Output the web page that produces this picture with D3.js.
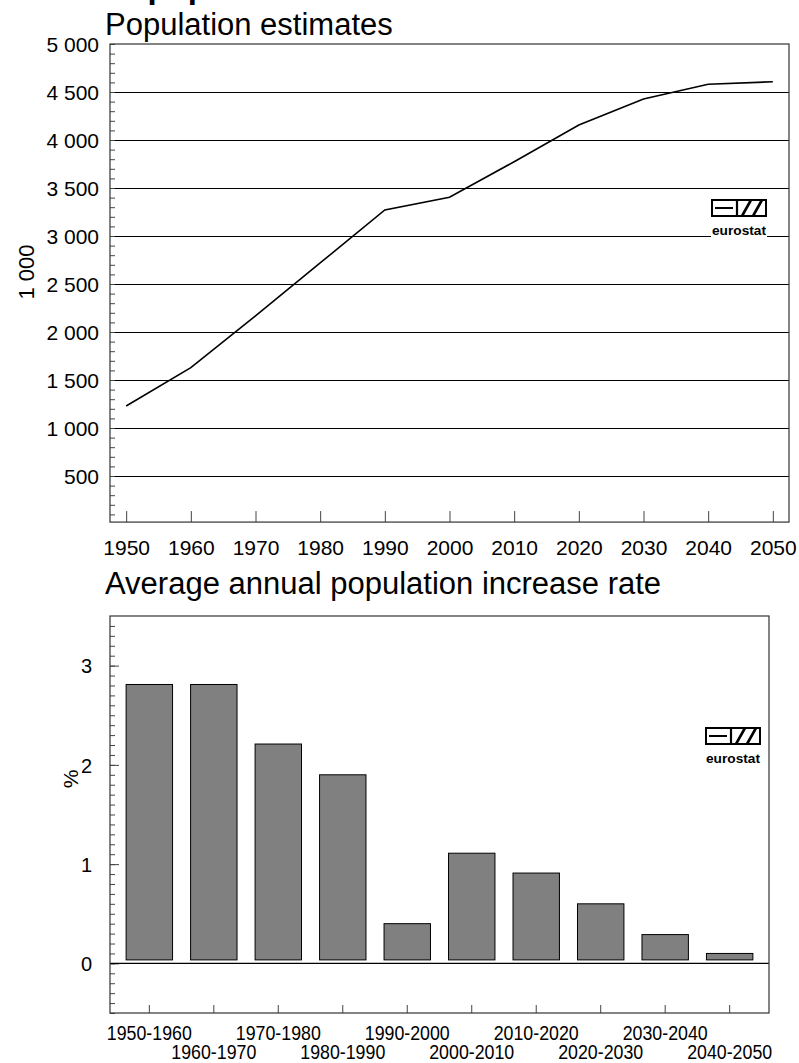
<!DOCTYPE html>
<head>
  <meta charset="utf-8">
  <script src="https://cdn.jsdelivr.net/npm/d3@7"></script>
  <style>
    body { margin:0; background:#fff; }
    text { font-family: "Liberation Sans", Arial, sans-serif; fill:#000; }
    .frame { fill:none; stroke:#333; stroke-width:1.2px; }
    .tick line { stroke:#444; }
    .grid .tick line { stroke:#000; }
  </style>
</head>
<body>
  <script>
    // population estimates (thousands)
    var years = [1950, 1960, 1970, 1980, 1990, 2000, 2010, 2020, 2030, 2040, 2050];
    var population = [1229, 1628, 2167, 2719, 3271, 3403, 3774, 4156, 4427, 4580, 4607];
    var popTicks = [500, 1000, 1500, 2000, 2500, 3000, 3500, 4000, 4500, 5000];

    // average annual increase rate (%)
    var periods = ["1950-1960", "1960-1970", "1970-1980", "1980-1990", "1990-2000",
                   "2000-2010", "2010-2020", "2020-2030", "2030-2040", "2040-2050"];
    var increaseRate = [2.81, 2.81, 2.21, 1.90, 0.40, 1.11, 0.91, 0.60, 0.29, 0.10];
    var rateTicks = [0, 1, 2, 3];

    var W = 799, H = 1063;
    var svg = d3.select("body").append("svg")
      .attr("width", W)
      .attr("height", H);

    var fmt = d3.formatLocale({decimal: ".", thousands: " ", grouping: [3], currency: ["", ""]}).format(",d");

    function logo(x, y) {
      var g = svg.append("g").attr("transform", "translate(" + x + "," + y + ")");
      g.append("rect").attr("x", 0).attr("y", 0).attr("width", 54).attr("height", 16)
        .attr("fill", "#fff").attr("stroke", "#000").attr("stroke-width", 2);
      // E
      g.append("path").attr("d", "M3,8 H21 M25,0 V16")
        .attr("stroke", "#000").attr("stroke-width", 2.2).attr("fill", "none");
      // slashes
      g.append("path").attr("d", "M30,16 L39,0 M41,16 L50,0")
        .attr("stroke", "#000").attr("stroke-width", 2.6).attr("fill", "none");
      g.append("rect").attr("x", -1).attr("y", 24).attr("width", 56).attr("height", 14).attr("fill", "#fff");
      g.append("text").attr("x", 27).attr("y", 35).attr("text-anchor", "middle")
        .attr("textLength", 54).attr("lengthAdjust", "spacingAndGlyphs")
        .style("font-size", "13px").style("font-weight", "bold").text("eurostat");
    }

    // cut-off main title
    svg.append("text").attr("x", 62).attr("y", -2)
      .style("font-size", "33px").style("font-weight", "bold").text("Total population");

    // ---------- line chart ----------
    var x = d3.scaleLinear().domain([1947.5, 2052.5]).range([110, 789]);
    var y = d3.scaleLinear().domain([0, 5000]).range([524, 44]);
    var yFloor = 20;

    svg.append("text").attr("x", 105).attr("y", 35).style("font-size", "31px").text("Population estimates");

    svg.append("g").attr("class", "grid")
      .attr("transform", "translate(110,0)")
      .call(d3.axisRight(y).tickValues(popTicks.slice(0, -1)).tickSize(789 - 110).tickFormat(""))
      .call(function(g) { g.select(".domain").remove(); });

    svg.append("g")
      .attr("transform", "translate(110,0)")
      .call(d3.axisRight(y).tickValues(d3.range(100, 5001, 100)).tickSize(5).tickFormat(""))
      .call(function(g) { g.select(".domain").remove(); });

    svg.append("g")
      .attr("transform", "translate(110,0)")
      .call(d3.axisLeft(y).tickValues(popTicks).tickSize(0).tickPadding(11).tickFormat(fmt))
      .call(function(g) {
        g.select(".domain").remove();
        g.selectAll("text").style("font-size", "21px").attr("font-family", null).attr("dy", "0.36em");
      });

    svg.append("g")
      .attr("transform", "translate(0," + y(yFloor) + ")")
      .call(d3.axisTop(x).tickValues(years).tickSize(11).tickFormat(""))
      .call(function(g) { g.select(".domain").remove(); });

    svg.append("g")
      .attr("transform", "translate(0," + y(yFloor) + ")")
      .call(d3.axisBottom(x).tickValues(years).tickSize(0).tickPadding(18).tickFormat(d3.format("d")))
      .call(function(g) {
        g.select(".domain").remove();
        g.selectAll("text").style("font-size", "21px").attr("font-family", null);
      });

    svg.append("rect").attr("class", "frame")
      .attr("x", x.range()[0]).attr("y", y(5000))
      .attr("width", x.range()[1] - x.range()[0]).attr("height", y(yFloor) - y(5000));

    svg.append("path")
      .datum(years.map(function(d, i) { return [d, population[i]]; }))
      .attr("fill", "none").attr("stroke", "#000").attr("stroke-width", 1.6)
      .attr("d", d3.line().x(function(d) { return x(d[0]); }).y(function(d) { return y(d[1]); }));

    svg.append("text")
      .attr("transform", "translate(34," + 272 + ") rotate(-90)")
      .attr("text-anchor", "middle").style("font-size", "22px").text("1 000");

    logo(712, 200);

    // ---------- bar chart ----------
    var xb = d3.scaleBand().domain(periods).range([110, 769]).paddingInner(0.28).paddingOuter(0.25);
    var yb = d3.scaleLinear().domain([-0.5, 3.5]).range([1013, 616]);
    var barBase = 0.035;

    svg.append("text").attr("x", 105).attr("y", 594).style("font-size", "31px")
      .text("Average annual population increase rate");

    svg.append("g")
      .attr("transform", "translate(110,0)")
      .call(d3.axisRight(yb).tickValues(d3.range(-5, 35).map(function(d) { return d / 10; })).tickSize(5).tickFormat(""))
      .call(function(g) { g.select(".domain").remove(); });

    svg.append("g")
      .attr("transform", "translate(110,0)")
      .call(d3.axisRight(yb).tickValues(rateTicks).tickSize(9).tickFormat(""))
      .call(function(g) { g.select(".domain").remove(); });

    svg.append("g")
      .attr("transform", "translate(110,0)")
      .call(d3.axisLeft(yb).tickValues(rateTicks).tickSize(0).tickPadding(18).tickFormat(d3.format("d")))
      .call(function(g) {
        g.select(".domain").remove();
        g.selectAll("text").style("font-size", "20px").attr("font-family", null).attr("dy", "0.36em");
      });

    svg.append("line")
      .attr("x1", 110).attr("x2", 769).attr("y1", yb(0)).attr("y2", yb(0))
      .attr("stroke", "#000").attr("stroke-width", 1.2);

    svg.selectAll("rect.bar").data(increaseRate).enter()
      .append("rect").attr("class", "bar")
      .attr("x", function(d, i) { return xb(periods[i]); })
      .attr("width", xb.bandwidth())
      .attr("y", function(d) { return yb(d); })
      .attr("height", function(d) { return yb(barBase) - yb(d); })
      .attr("fill", "#808080").attr("stroke", "#000").attr("stroke-width", 1);

    svg.append("g")
      .attr("transform", "translate(0," + yb(-0.5) + ")")
      .call(d3.axisTop(xb).tickSize(8).tickFormat(""))
      .call(function(g) { g.select(".domain").remove(); });

    svg.append("g")
      .attr("transform", "translate(0," + yb(-0.5) + ")")
      .call(d3.axisBottom(xb).tickSize(0).tickPadding(12))
      .call(function(g) {
        g.select(".domain").remove();
        g.selectAll("text")
          .style("font-size", "20px").attr("font-family", null)
          .attr("textLength", 85).attr("lengthAdjust", "spacingAndGlyphs")
          .attr("y", function(d, i) { return i % 2 ? 32 : 13; });
      });

    svg.append("rect").attr("class", "frame")
      .attr("x", 110).attr("y", yb(3.5))
      .attr("width", 769 - 110).attr("height", yb(-0.5) - yb(3.5));

    svg.append("text")
      .attr("transform", "translate(78," + 779 + ") rotate(-90)")
      .attr("text-anchor", "middle").style("font-size", "21px").text("%");

    logo(706, 728);
  </script>
</body>
